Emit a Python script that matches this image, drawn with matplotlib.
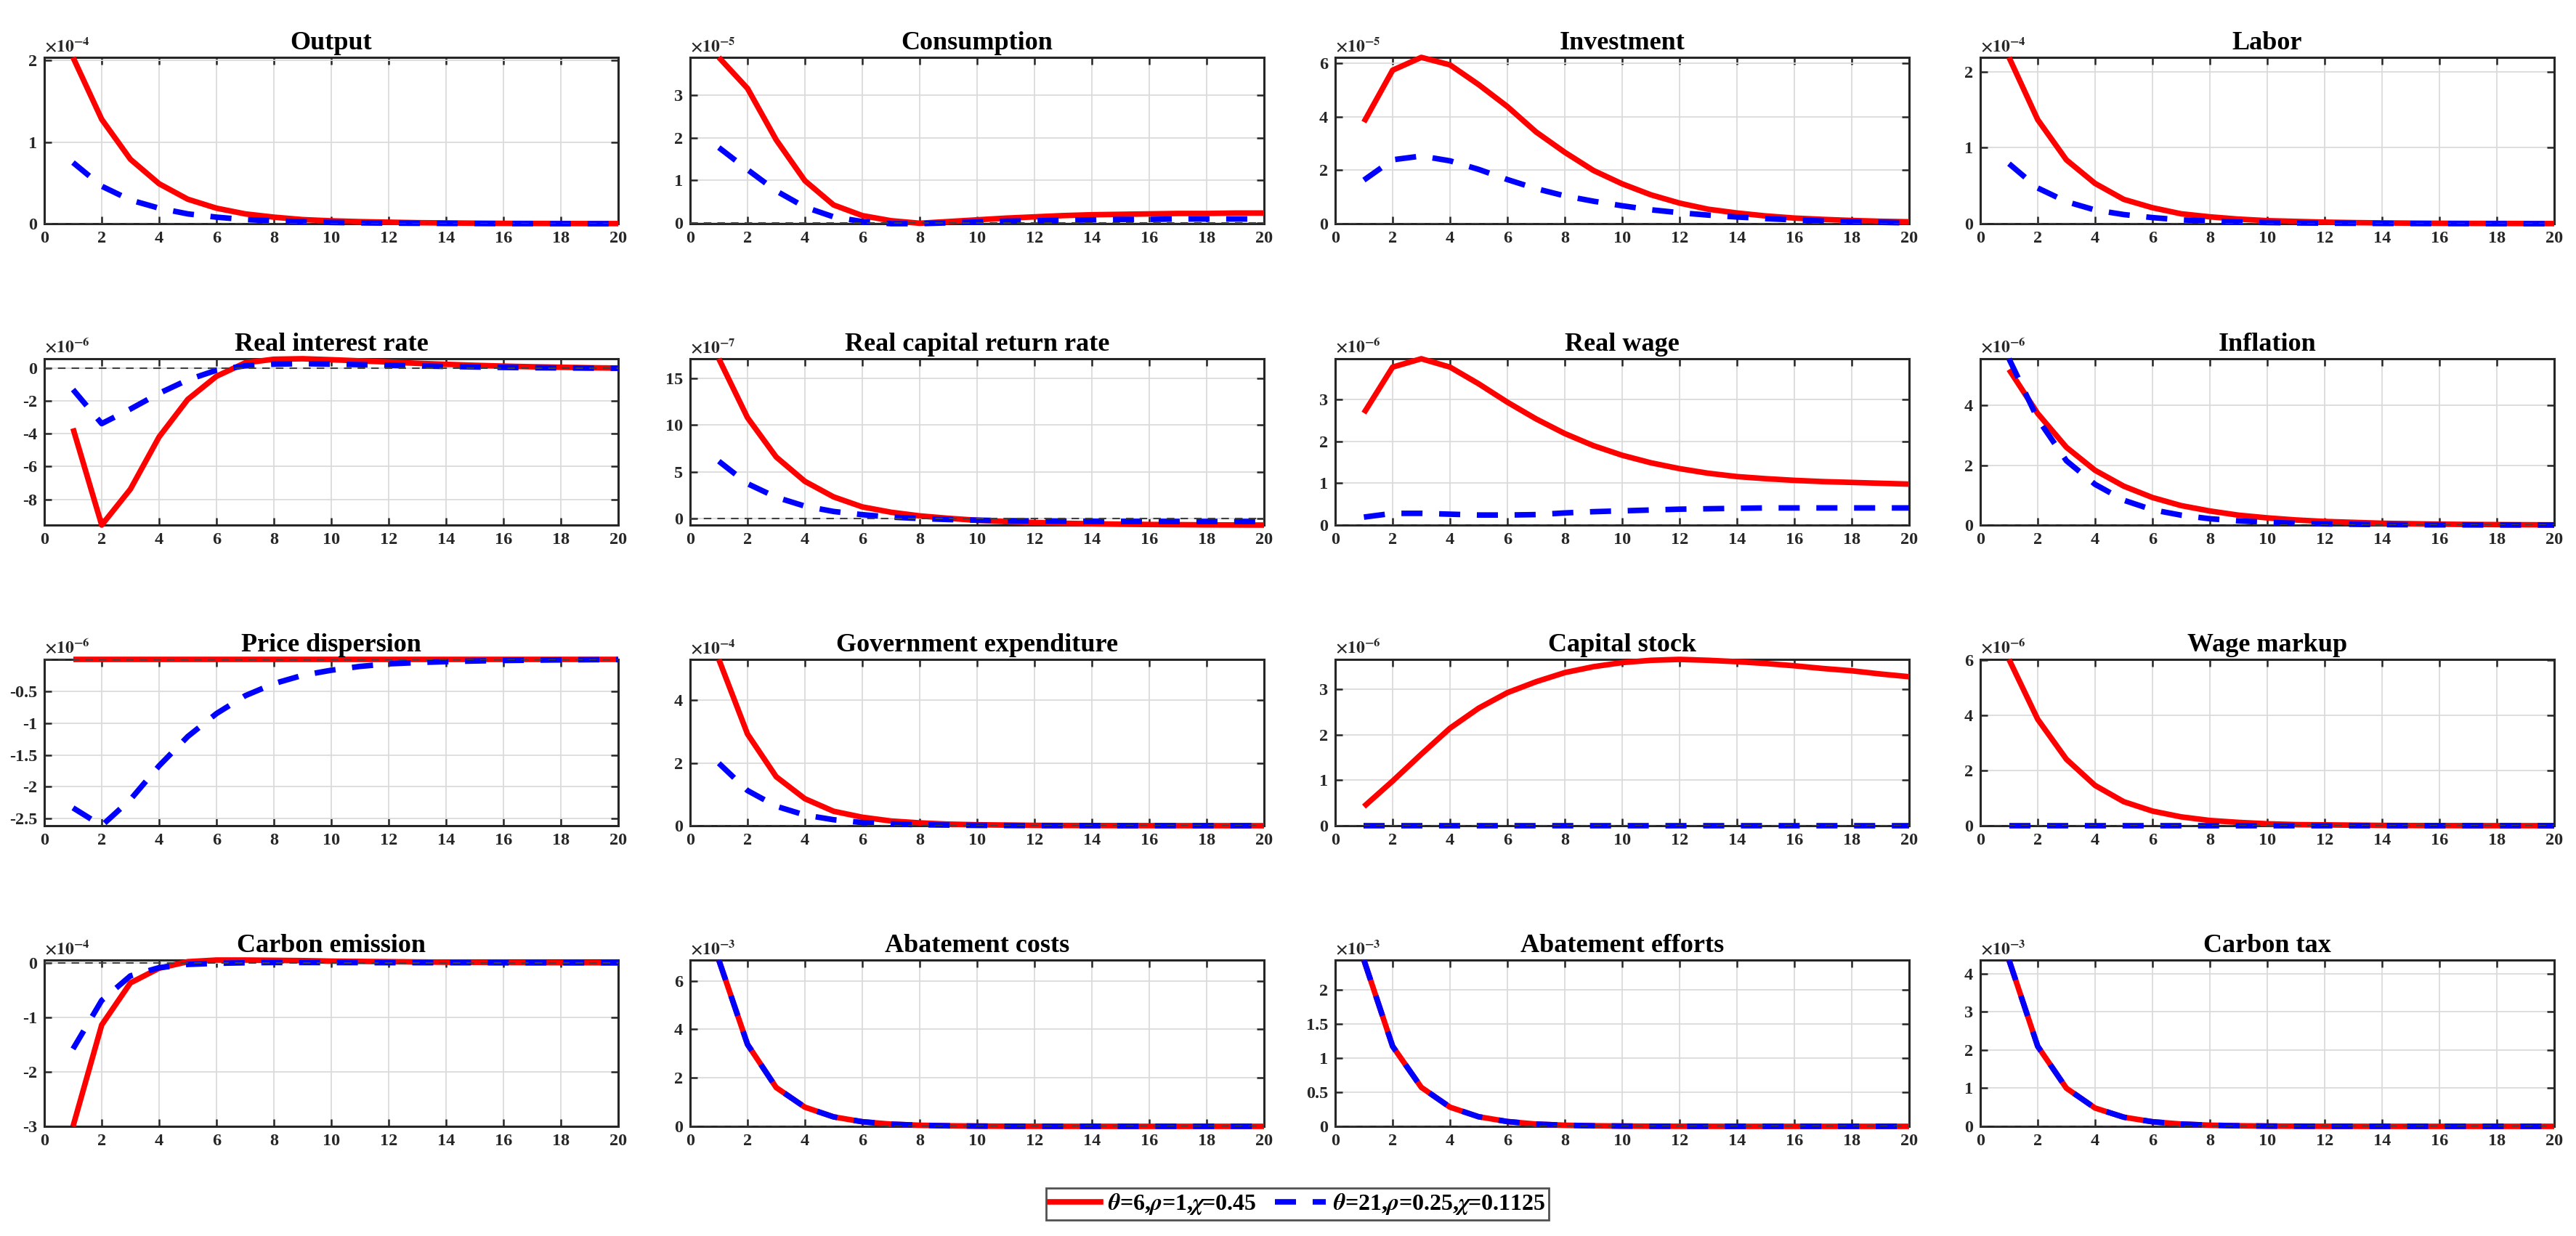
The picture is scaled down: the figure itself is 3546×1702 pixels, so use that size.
import numpy as np
import matplotlib.pyplot as plt
from matplotlib.lines import Line2D
from matplotlib.ticker import FuncFormatter

plt.rcParams['font.family'] = 'Liberation Serif'
plt.rcParams['font.weight'] = 'bold'
plt.rcParams['mathtext.fontset'] = 'stix'
plt.rcParams['axes.unicode_minus'] = False

# impulse responses, periods 1..20, values in units of 10^exponent
periods = np.arange(1, 21)

titles = ["Output", "Consumption", "Investment", "Labor",
          "Real interest rate", "Real capital return rate", "Real wage", "Inflation",
          "Price dispersion", "Government expenditure", "Capital stock", "Wage markup",
          "Carbon emission", "Abatement costs", "Abatement efforts", "Carbon tax"]
exponents = [-4, -5, -5, -4, -6, -7, -6, -6, -6, -4, -6, -6, -4, -3, -3, -3]

output_red = [2.04, 1.28, 0.79, 0.49, 0.30, 0.19, 0.12, 0.08, 0.05, 0.035, 0.025, 0.018, 0.012, 0.009, 0.006, 0.004, 0.003, 0.002, 0.001, 0.001]
output_blue = [0.75, 0.46, 0.29, 0.19, 0.12, 0.08, 0.05, 0.035, 0.025, 0.015, 0.01, 0.007, 0.005, 0.003, 0.002, 0.001, 0.001, 0.0005, 0.0003, 0.0002]
consumption_red = [3.89, 3.16, 1.95, 0.99, 0.42, 0.17, 0.05, -0.01, 0.03, 0.07, 0.11, 0.14, 0.17, 0.19, 0.20, 0.21, 0.22, 0.22, 0.23, 0.23]
consumption_blue = [1.77, 1.25, 0.75, 0.37, 0.14, 0.03, -0.02, -0.02, 0.0, 0.02, 0.04, 0.05, 0.06, 0.07, 0.08, 0.08, 0.09, 0.09, 0.09, 0.09]
investment_red = [3.8, 5.74, 6.22, 5.94, 5.2, 4.38, 3.43, 2.67, 1.99, 1.49, 1.08, 0.77, 0.54, 0.40, 0.29, 0.21, 0.16, 0.12, 0.09, 0.07]
investment_blue = [1.63, 2.39, 2.53, 2.35, 2.03, 1.65, 1.31, 1.04, 0.84, 0.67, 0.52, 0.41, 0.32, 0.25, 0.19, 0.14, 0.10, 0.07, 0.05, 0.03]
labor_red = [2.19, 1.37, 0.84, 0.53, 0.32, 0.21, 0.13, 0.09, 0.06, 0.04, 0.03, 0.02, 0.014, 0.01, 0.007, 0.005, 0.004, 0.003, 0.002, 0.001]
labor_blue = [0.79, 0.47, 0.29, 0.18, 0.12, 0.08, 0.05, 0.035, 0.022, 0.015, 0.01, 0.007, 0.005, 0.003, 0.002, 0.0015, 0.001, 0.0007, 0.0005, 0.0003]
real_rate_red = [-3.67, -9.57, -7.38, -4.19, -1.9, -0.49, 0.33, 0.55, 0.58, 0.52, 0.45, 0.38, 0.30, 0.24, 0.18, 0.13, 0.09, 0.06, 0.03, 0.01]
real_rate_blue = [-1.3, -3.38, -2.49, -1.53, -0.71, -0.12, 0.15, 0.25, 0.28, 0.25, 0.22, 0.18, 0.14, 0.11, 0.08, 0.05, 0.03, 0.02, 0.01, 0.0]
capital_return_red = [17.1, 10.8, 6.6, 4.0, 2.34, 1.27, 0.7, 0.31, 0.05, -0.16, -0.3, -0.4, -0.48, -0.53, -0.58, -0.61, -0.63, -0.65, -0.66, -0.67]
capital_return_blue = [6.15, 3.75, 2.3, 1.35, 0.78, 0.44, 0.18, 0.03, -0.08, -0.15, -0.2, -0.23, -0.25, -0.27, -0.28, -0.28, -0.29, -0.29, -0.29, -0.29]
real_wage_red = [2.68, 3.78, 3.98, 3.78, 3.38, 2.94, 2.54, 2.19, 1.9, 1.67, 1.49, 1.35, 1.24, 1.16, 1.11, 1.07, 1.04, 1.02, 1.0, 0.98]
real_wage_blue = [0.19, 0.28, 0.28, 0.26, 0.24, 0.24, 0.25, 0.29, 0.32, 0.34, 0.36, 0.38, 0.39, 0.40, 0.41, 0.41, 0.41, 0.41, 0.41, 0.41]
inflation_red = [5.2, 3.73, 2.6, 1.83, 1.3, 0.92, 0.65, 0.47, 0.33, 0.24, 0.17, 0.12, 0.09, 0.06, 0.045, 0.03, 0.02, 0.015, 0.01, 0.007]
inflation_blue = [5.56, 3.55, 2.15, 1.36, 0.83, 0.51, 0.33, 0.21, 0.14, 0.09, 0.06, 0.04, 0.025, 0.016, 0.01, 0.007, 0.005, 0.003, 0.002, 0.001]
dispersion_red = [0.0, 0.0, 0.0, 0.0, 0.0, 0.0, 0.0, 0.0, 0.0, 0.0, 0.0, 0.0, 0.0, 0.0, 0.0, 0.0, 0.0, 0.0, 0.0, 0.0]
dispersion_blue = [-2.33, -2.61, -2.2, -1.67, -1.21, -0.85, -0.57, -0.38, -0.25, -0.17, -0.11, -0.07, -0.05, -0.035, -0.025, -0.017, -0.012, -0.008, -0.005, -0.003]
gov_red = [5.3, 2.92, 1.56, 0.86, 0.46, 0.27, 0.15, 0.09, 0.05, 0.03, 0.02, 0.01, 0.007, 0.005, 0.003, 0.002, 0.001, 0.001, 0.0, 0.0]
gov_blue = [1.99, 1.12, 0.62, 0.34, 0.19, 0.1, 0.06, 0.03, 0.02, 0.01, 0.006, 0.003, 0.002, 0.001, 0.0, 0.0, 0.0, 0.0, 0.0, 0.0]
capital_red = [0.42, 0.98, 1.57, 2.14, 2.58, 2.92, 3.16, 3.36, 3.49, 3.58, 3.63, 3.65, 3.63, 3.6, 3.56, 3.51, 3.45, 3.4, 3.33, 3.27]
capital_blue = [0.0, 0.0, 0.0, 0.0, 0.0, 0.0, 0.0, 0.0, 0.0, 0.0, 0.0, 0.0, 0.0, 0.0, 0.0, 0.0, 0.0, 0.0, 0.0, 0.0]
markup_red = [6.03, 3.86, 2.41, 1.46, 0.87, 0.53, 0.32, 0.19, 0.12, 0.07, 0.04, 0.03, 0.02, 0.01, 0.006, 0.004, 0.002, 0.001, 0.001, 0.0]
markup_blue = [0.0, 0.0, 0.0, 0.0, 0.0, 0.0, 0.0, 0.0, 0.0, 0.0, 0.0, 0.0, 0.0, 0.0, 0.0, 0.0, 0.0, 0.0, 0.0, 0.0]
emission_red = [-3.0, -1.14, -0.37, -0.1, 0.02, 0.05, 0.05, 0.045, 0.04, 0.03, 0.025, 0.02, 0.015, 0.01, 0.008, 0.005, 0.003, 0.002, 0.001, 0.0]
emission_blue = [-1.58, -0.69, -0.24, -0.09, -0.03, -0.01, 0.0, 0.005, 0.005, 0.004, 0.003, 0.002, 0.002, 0.001, 0.001, 0.0, 0.0, 0.0, 0.0, 0.0]
abate_cost_red = [6.86, 3.38, 1.6, 0.79, 0.39, 0.19, 0.09, 0.045, 0.022, 0.011, 0.005, 0.003, 0.001, 0.001, 0.0, 0.0, 0.0, 0.0, 0.0, 0.0]
abate_cost_blue = [6.86, 3.38, 1.6, 0.79, 0.39, 0.19, 0.09, 0.045, 0.022, 0.011, 0.005, 0.003, 0.001, 0.001, 0.0, 0.0, 0.0, 0.0, 0.0, 0.0]
abate_effort_red = [2.43, 1.17, 0.57, 0.28, 0.14, 0.07, 0.033, 0.016, 0.008, 0.004, 0.002, 0.001, 0.0005, 0.0, 0.0, 0.0, 0.0, 0.0, 0.0, 0.0]
abate_effort_blue = [2.43, 1.17, 0.57, 0.28, 0.14, 0.07, 0.033, 0.016, 0.008, 0.004, 0.002, 0.001, 0.0005, 0.0, 0.0, 0.0, 0.0, 0.0, 0.0, 0.0]
carbon_tax_red = [4.36, 2.1, 1.0, 0.48, 0.24, 0.12, 0.06, 0.03, 0.015, 0.007, 0.004, 0.002, 0.001, 0.0, 0.0, 0.0, 0.0, 0.0, 0.0, 0.0]
carbon_tax_blue = [4.36, 2.1, 1.0, 0.48, 0.24, 0.12, 0.06, 0.03, 0.015, 0.007, 0.004, 0.002, 0.001, 0.0, 0.0, 0.0, 0.0, 0.0, 0.0, 0.0]

red_series = [output_red, consumption_red, investment_red, labor_red,
              real_rate_red, capital_return_red, real_wage_red, inflation_red,
              dispersion_red, gov_red, capital_red, markup_red,
              emission_red, abate_cost_red, abate_effort_red, carbon_tax_red]
blue_series = [output_blue, consumption_blue, investment_blue, labor_blue,
               real_rate_blue, capital_return_blue, real_wage_blue, inflation_blue,
               dispersion_blue, gov_blue, capital_blue, markup_blue,
               emission_blue, abate_cost_blue, abate_effort_blue, carbon_tax_blue]

y_ticks = [[0, 1, 2], [0, 1, 2, 3], [0, 2, 4, 6], [0, 1, 2],
           [-8, -6, -4, -2, 0], [0, 5, 10, 15], [0, 1, 2, 3], [0, 2, 4],
           [-2.5, -2, -1.5, -1, -0.5], [0, 2, 4], [0, 1, 2, 3], [0, 2, 4, 6],
           [-3, -2, -1, 0], [0, 2, 4, 6], [0, 0.5, 1, 1.5, 2], [0, 1, 2, 3, 4]]

labels = [r'$\theta$=6,$\rho$=1,$\chi$=0.45', r'$\theta$=21,$\rho$=0.25,$\chi$=0.1125']

W, H = 3546, 1702
fig = plt.figure(figsize=(W / 100, H / 100), dpi=100)

col_left = [61, 950, 1838, 2726]
row_top = [79, 494, 908, 1322]
ax_w, ax_h = 790, 229

fmt = FuncFormatter(lambda v, p: f"{v:g}")

for i, name in enumerate(titles):
    r, c = divmod(i, 4)
    ax = fig.add_axes([col_left[c] / W, 1 - (row_top[r] + ax_h) / H, ax_w / W, ax_h / H])
    red = np.array(red_series[i])
    blue = np.array(blue_series[i])
    ax.plot(periods, red, color=(1, 0, 0), lw=5.5, zorder=3, clip_on=False,
            solid_capstyle='butt')
    ax.plot(periods, blue, color=(0, 0, 1), lw=5.5, ls=(0, (3.8, 3.0)), zorder=4,
            clip_on=False, dash_capstyle='butt')
    ax.axhline(0, color='0.25', ls=(0, (5, 4)), lw=1.5, zorder=5)
    lo = min(red.min(), blue.min(), 0)
    hi = max(red.max(), blue.max(), 0)
    ax.set_ylim(lo, hi)
    ax.set_xlim(0, 20)
    ax.set_xticks(np.arange(0, 21, 2))
    ax.set_yticks(y_ticks[i])
    ax.xaxis.set_major_formatter(fmt)
    ax.yaxis.set_major_formatter(fmt)
    ax.grid(True, color='0.86', lw=1.3, zorder=0)
    ax.set_axisbelow(True)
    ax.tick_params(direction='in', top=True, right=True, length=7, width=1.8,
                   labelsize=17.5, pad=7, colors='0.15')
    for lab in ax.get_xticklabels() + ax.get_yticklabels():
        lab.set_fontweight('bold')
    for s in ax.spines.values():
        s.set_linewidth(2.2)
        s.set_color('0.15')
    ax.set_title(name, fontsize=26, fontweight='bold', pad=8)
    ax.text(0.0, 1.012, r'$\times10^{%d}$' % exponents[i], transform=ax.transAxes,
            fontsize=17, va='bottom', ha='left', color='0.15')

handles = [Line2D([], [], color=(1, 0, 0), lw=5.5),
           Line2D([], [], color=(0, 0, 1), lw=5.5, ls=(0, (3.8, 3.0)))]
leg = fig.legend(handles, labels, loc='center', bbox_to_anchor=(1786 / W, 1 - 1658 / H),
                 ncol=2, fontsize=23, frameon=True, fancybox=False, edgecolor='0.15',
                 handlelength=2.2, handletextpad=0.3, columnspacing=0.8,
                 borderpad=0.15, borderaxespad=0)
leg.get_frame().set_linewidth(2)
for t in leg.get_texts():
    t.set_fontweight('bold')

fig.savefig("out.png", dpi=100)
